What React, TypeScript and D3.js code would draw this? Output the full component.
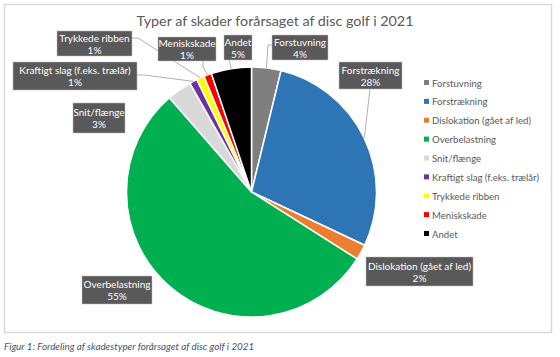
import React from "react";
import * as d3 from "d3";

const categories = [
  "Forstuvning",
  "Forstrækning",
  "Dislokation (gået af led)",
  "Overbelastning",
  "Snit/flænge",
  "Kraftigt slag (f.eks. trælår)",
  "Trykkede ribben",
  "Meniskskade",
  "Andet",
];
const values = [3.8, 28.2, 2.0, 54.6, 3.2, 1.0, 1.0, 1.0, 5.2];
const colors = ["#7f7f7f", "#2e75b6", "#ed7d31", "#00b050", "#d9d9d9", "#7030a0", "#ffff00", "#ff0000", "#000000"];
const title = "Typer af skader forårsaget af disc golf i 2021";
const caption = "Figur 1: Fordeling af skadestyper forårsaget af disc golf i 2021";

// layout of the data-label boxes (x, y, w, h) and leader-line anchor on box
const labelLayout = [
  { x: 272, y: 35, w: 56, h: 25, anchor: [[272, 45], [268, 45]] },
  { x: 339, y: 62, w: 63, h: 27, anchor: [[370, 89]] },
  { x: 366, y: 257, w: 107, h: 29, anchor: null },
  { x: 82, y: 276, w: 70, h: 28, anchor: null },
  { x: 73, y: 103, w: 52, h: 30, anchor: null },
  { x: 13, y: 62, w: 124, h: 28, anchor: [[137, 75], [144, 75]] },
  { x: 57, y: 31, w: 75, h: 25, anchor: [[132, 38], [138, 38]] },
  { x: 158, y: 37, w: 58, h: 24, anchor: [[203, 61], [203, 67]] },
  { x: 224, y: 35, w: 28, h: 25, anchor: [[229, 60]] },
];

const W = 560, H = 357;
const cx = 251.5, cy = 192, R = 125;
const FONT = "Lato, 'Open Sans', sans-serif";

export default function App() {
  const pie = d3.pie<number>().sort(null).value((d) => d)(values);
  const arc = d3.arc<d3.PieArcDatum<number>>().innerRadius(0).outerRadius(R);
  const total = d3.sum(values);
  const legendY = d3.scalePoint<string>().domain(categories).range([83, 234]);

  return (
    <svg width={W} height={H} style={{ position: "absolute", left: 0, top: 0, background: "#fff" }}>
      <rect x={4.5} y={4.5} width={547} height={328} fill="#fff" stroke="#d9d9d9" strokeWidth={1.5} />
      <text x={275} y={26} textAnchor="middle" fontFamily={FONT} fontSize={14.3} fill="#595959">{title}</text>
      <g transform={`translate(${cx},${cy})`}>
        {pie.map((p, i) => (
          <path key={i} d={arc(p) || ""} fill={colors[i]} stroke="#fff" strokeWidth={1.5} />
        ))}
      </g>
      {pie.map((p, i) => {
        const L = labelLayout[i];
        if (!L.anchor) return null;
        const mid = (p.startAngle + p.endAngle) / 2;
        const ex = cx + R * Math.sin(mid);
        const ey = cy - R * Math.cos(mid);
        const pts = [...L.anchor, [ex, ey]] as [number, number][];
        return <path key={"l" + i} d={d3.line()(pts) || ""} fill="none" stroke="#a6a6a6" strokeWidth={0.9} />;
      })}
      {pie.map((p, i) => {
        const L = labelLayout[i];
        const pct = Math.round((values[i] / total) * 100) + "%";
        const mx = L.x + L.w / 2;
        return (
          <g key={"b" + i}>
            <rect x={L.x} y={L.y} width={L.w} height={L.h} fill="#595959" stroke="#bfbfbf" strokeWidth={0.5} />
            <text x={mx} y={L.y + L.h / 2 - 2} textAnchor="middle" fontFamily={FONT} fontSize={10} fill="#fff">{categories[i]}</text>
            <text x={mx} y={L.y + L.h / 2 + 10} textAnchor="middle" fontFamily={FONT} fontSize={10} fill="#fff">{pct}</text>
          </g>
        );
      })}
      {categories.map((c, i) => (
        <g key={"lg" + i}>
          <rect x={424} y={(legendY(c) as number) - 3} width={5} height={5} fill={colors[i]} />
          <text x={432} y={(legendY(c) as number) + 3.5} fontFamily={FONT} fontSize={9.6} fill="#595959">{c}</text>
        </g>
      ))}
      <text x={4} y={350} fontFamily={FONT} fontStyle="italic" fontSize={9.8} fill="#44546a">{caption}</text>
    </svg>
  );
}
